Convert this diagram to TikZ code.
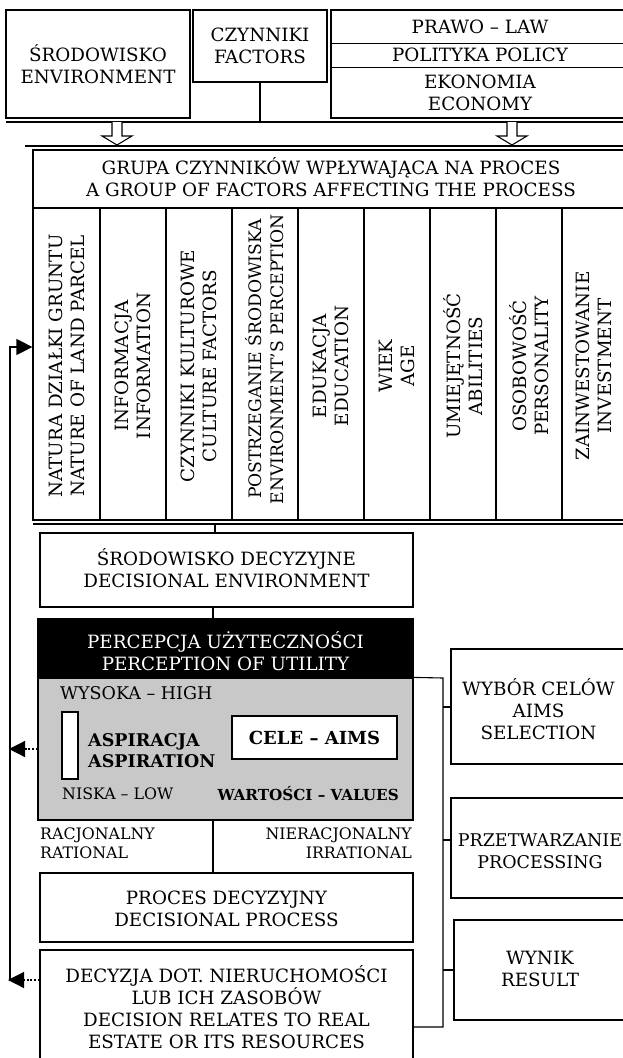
\documentclass[tikz,border=0pt]{standalone}
\usepackage{fontspec}
\setmainfont{DejaVu Serif}
\usetikzlibrary{arrows.meta}
\definecolor{boxgray}{RGB}{200,200,200}
\begin{document}
\begin{tikzpicture}[x=1pt,y=-1pt,
  box/.style={draw, line width=1.2pt, inner sep=0pt},
  ln/.style={line width=1.2pt},
  txt/.style={align=center, inner sep=0pt, font=\fontsize{18.3}{22}\selectfont},
  small/.style={inner sep=0pt, font=\fontsize{15.8}{18.5}\selectfont},
  bold/.style={inner sep=0pt, font=\fontsize{17.5}{21}\selectfont\bfseries},
  vtxt/.style={txt, rotate=90},
  hollow/.style={draw, line width=1.1pt, fill=white},
  dots/.style={line width=2.2pt, dash pattern=on 1.8pt off 1.8pt},
  tip/.style={-{Triangle[length=16pt,width=16pt]}}]
\useasboundingbox (0,0) rectangle (623,1058);

% ---------- top row ----------
\node[box, minimum width=184pt, minimum height=108pt] (env) at (98,64) {};
\node[txt] (envt) at (env.center) {ŚRODOWISKO\\ENVIRONMENT};
\node[box, minimum width=134pt, minimum height=72pt] (fac) at (260,46) {};
\node[txt] (fact) at (fac.center) {CZYNNIKI\\FACTORS};
\node[box, minimum width=295pt, minimum height=108pt] (law) at (478.5,64) {};
\draw[line width=1pt] (331,43) -- (626,43);
\draw[line width=1pt] (331,67) -- (626,67);
\node[txt] (lawt) at (480,27) {PRAWO – LAW};
\node[txt] (polt) at (480,55) {POLITYKA POLICY};
\node[txt] (ekot) at (480,93) {EKONOMIA\\ECONOMY};

% top bus line
\coordinate (busA) at (6,122);
\coordinate (busB) at (626,122);
\draw[ln] (busA) -- (busB);
\coordinate (facbus) at (260,122);
\draw[ln] (fac.south) -- (facbus);

% hollow arrows
\foreach \c in {117,512}{
  \draw[hollow] (\c-5,122) -- (\c-5,136) -- (\c-15,136) -- (\c,145) -- (\c+15,136) -- (\c+5,136) -- (\c+5,122);
}
\draw[ln] (25,146) -- (626,146);

% ---------- group of factors ----------
\node[box, minimum width=593pt, minimum height=370pt] (group) at (329.5,335) {};
\draw[ln] (33,208) -- (626,208);
\node[txt] (groupt) at (331,177) {GRUPA CZYNNIKÓW WPŁYWAJĄCA NA PROCES\\A GROUP OF FACTORS AFFECTING THE PROCESS};
\foreach \x in {100,166,232,298,364,430,496,562}{
  \draw[line width=1.1pt] (\x,208) -- (\x,520);
}
\node[vtxt] (c1) at (67,366) {NATURA DZIAŁKI GRUNTU\\NATURE OF LAND PARCEL};
\node[vtxt] (c2) at (133,366) {INFORMACJA\\INFORMATION};
\node[vtxt] (c3) at (199,366) {CZYNNIKI KULTUROWE\\CULTURE FACTORS};
\node[vtxt, font=\fontsize{17.2}{22}\selectfont] (c4) at (265,359) {POSTRZEGANIE ŚRODOWISKA\\ENVIRONMENT'S PERCEPTION};
\node[vtxt] (c5) at (331,366) {EDUKACJA\\EDUCATION};
\node[vtxt] (c6) at (397,366) {WIEK\\AGE};
\node[vtxt] (c7) at (463,366) {UMIEJĘTNOŚĆ\\ABILITIES};
\node[vtxt] (c8) at (529,366) {OSOBOWOŚĆ\\PERSONALITY};
\node[vtxt] (c9) at (594,366) {ZAINWESTOWANIE\\INVESTMENT};
\draw[ln] (33,524) -- (626,524);

% ---------- decisional environment ----------
\node[box, minimum width=373pt, minimum height=74pt] (denv) at (226.5,570) {};
\node[txt] (denvt) at (226.5,568) {ŚRODOWISKO DECYZYJNE\\DECISIONAL ENVIRONMENT};
\coordinate (bus2) at (215,524);
\draw[ln] (bus2) -- (bus2 |- denv.north);

% perception
\node[box, fill=black, minimum width=375pt, minimum height=59pt] (perc) at (225.5,648.5) {};
\node[txt, text=white] (perct) at (225.5,651) {PERCEPCJA UŻYTECZNOŚCI\\PERCEPTION OF UTILITY};
\draw[ln] (denv.south -| 213,0) -- (perc.north -| 213,0);
\node[box, fill=boxgray, minimum width=375pt, minimum height=142pt] (gray) at (225.5,749) {};
\node[small, anchor=west, font=\fontsize{17.5}{20}\selectfont] (high) at (60,693) {WYSOKA – HIGH};
\node[box, fill=white, minimum width=16pt, minimum height=67pt] (bar) at (70,745.5) {};
\node[bold, anchor=west, align=left] (asp) at (88,751) {ASPIRACJA\\ASPIRATION};
\node[box, fill=white, minimum width=165pt, minimum height=43pt] (aims) at (314.5,737.5) {};
\node[bold, font=\fontsize{18}{21}\selectfont\bfseries] (aimst) at (aims.center) {CELE – AIMS};
\node[small, anchor=west] (low) at (62,794) {NISKA – LOW};
\node[bold, anchor=east, font=\fontsize{15.2}{18.5}\selectfont\bfseries] (val) at (399,794) {WARTOŚCI – VALUES};

% rational / irrational
\node[small, anchor=north west, align=left] (rat) at (40,828) {RACJONALNY\\RATIONAL};
\node[small, anchor=north east, align=right] (irr) at (412,828) {NIERACJONALNY\\IRRATIONAL};

% decisional process
\node[box, minimum width=373pt, minimum height=69pt] (proc) at (226.5,907.5) {};
\node[txt] (proct) at (226.5,909) {PROCES DECYZYJNY\\DECISIONAL PROCESS};
\draw[ln] (gray.south -| 213,0) -- (proc.north -| 213,0);

% decision
\node[box, minimum width=373pt, minimum height=115pt] (dec) at (226.5,1007.5) {};
\node[txt] (dect) at (226.5,1007) {DECYZJA DOT. NIERUCHOMOŚCI\\LUB ICH ZASOBÓW\\DECISION RELATES TO REAL\\ESTATE OR ITS RESOURCES};

% ---------- right column ----------
\node[box, minimum width=175pt, minimum height=115pt] (sel) at (538.5,706.5) {};
\node[txt] (selt) at (538.5,709) {WYBÓR CELÓW\\AIMS\\SELECTION};
\node[box, minimum width=175pt, minimum height=100pt] (prz) at (538.5,848) {};
\node[txt, font=\fontsize{17.5}{22}\selectfont] (przt) at (540,851) {PRZETWARZANIE\\PROCESSING};
\node[box, minimum width=172pt, minimum height=100pt] (res) at (540,970) {};
\node[txt] (rest) at (540,969) {WYNIK\\RESULT};

\coordinate (brT) at (443,678);
\coordinate (brB) at (443,1027);
\draw[line width=1.1pt] (gray.north east) -- (brT) -- (brB) -- (brB -| dec.east);
\draw[line width=1.1pt] (443,707) -- (sel.west |- 0,707);
\draw[line width=1.1pt] (443,840) -- (prz.west |- 0,840);
\draw[line width=1.1pt] (443,970) -- (res.west |- 0,970);

% ---------- feedback ----------
\coordinate (fbT) at (10,347);
\coordinate (fbB) at (10,980);
\draw[ln, tip] (fbB) -- (fbT) -- (fbT -| group.west);
\draw[dots] (gray.west |- 0,749) -- (24,749);
\draw[ln, tip] (24,749) -- (9,749);
\draw[dots] (dec.west |- fbB) -- (24,980);
\draw[ln, tip] (24,980) -- (8,980);
\end{tikzpicture}
\end{document}
